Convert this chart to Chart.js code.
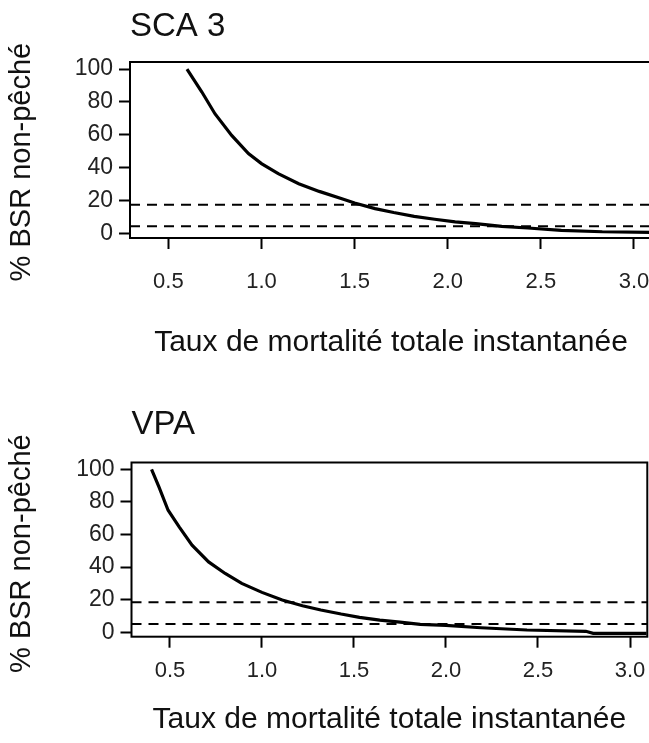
<!DOCTYPE html>
<html>
<head>
<meta charset="utf-8">
<script src="https://cdn.jsdelivr.net/npm/chart.js@4"></script>
<style>
  html, body { margin: 0; padding: 0; background: #fff; overflow: hidden; }
  body { width: 649px; height: 743px; position: relative; }
  .panel { position: absolute; left: 0; }
</style>
</head>
<body>
<div class="panel" style="top:0"><canvas id="scaChart" width="660" height="372"></canvas></div>
<div class="panel" style="top:372px"><canvas id="vpaChart" width="649" height="371"></canvas></div>
<script>
  // values
  const xTicks = [0.5, 1.0, 1.5, 2.0, 2.5, 3.0];
  const yTicks = [0, 20, 40, 60, 80, 100];

  const scaZ = [0.60, 0.68, 0.75, 0.84, 0.93, 1.00, 1.09, 1.20, 1.31, 1.44, 1.50, 1.61, 1.71, 1.82, 1.93, 2.04, 2.15, 2.29, 2.43, 2.61, 2.83, 3.09];
  const scaPct = [100, 86.0, 72.8, 59.6, 48.5, 42.4, 36.3, 30.2, 25.5, 20.7, 18.4, 15.0, 12.6, 10.3, 8.5, 6.9, 5.9, 4.2, 3.2, 1.8, 0.9, 0.5];
  const scaRefs = [17.4, 4.3];

  const vpaZ = [0.40, 0.44, 0.49, 0.55, 0.62, 0.71, 0.80, 0.89, 1.00, 1.11, 1.22, 1.32, 1.43, 1.53, 1.64, 1.75, 1.86, 2.00, 2.19, 2.44, 2.76, 2.80, 3.09];
  const vpaPct = [100, 89.2, 74.9, 64.7, 53.5, 43.2, 36.1, 30.0, 24.5, 19.8, 16.3, 13.7, 11.2, 9.2, 7.5, 6.3, 4.9, 4.3, 2.8, 1.4, 0.6, -0.6, -0.6];
  const vpaRefs = [18.5, 5.1];

  const FONT = "'Liberation Sans', Arial, sans-serif";
  const Y_TITLE = '% BSR non-pêché';

  const boxPlugin = {
    id: 'box',
    afterDraw(chart) {
      const { ctx, chartArea: a } = chart;
      ctx.save();
      ctx.strokeStyle = '#000';
      ctx.lineWidth = 2;
      ctx.strokeRect(a.left, a.top, a.right - a.left, a.bottom - a.top);
      ctx.restore();
    }
  };

  // keep tick labels from reserving extra room, so the plot box stays where we put it
  function noLabelPadding(s) {
    s.paddingLeft = 0;
    s.paddingRight = 0;
    s.paddingTop = 0;
    s.paddingBottom = 0;
  }

  function makePanel(el, cfg) {
    const pts = cfg.x.map((x, i) => ({ x, y: cfg.y[i] }));
    const refSets = cfg.refs.map(v => ({
      data: [{ x: cfg.xMin, y: v }, { x: cfg.xMax, y: v }],
      borderColor: '#000',
      borderWidth: 2,
      borderDash: [10, 7],
      pointRadius: 0,
      showLine: true,
    }));

    return new Chart(el, {
      type: 'scatter',
      data: {
        datasets: [{
          data: pts,
          borderColor: '#000',
          borderWidth: 3.2,
          pointRadius: 0,
          showLine: true,
          tension: 0,
        }, ...refSets],
      },
      options: {
        responsive: false,
        animation: false,
        layout: { padding: { top: 0, right: cfg.padRight, left: 0, bottom: 0 } },
        plugins: {
          legend: { display: false },
          tooltip: { enabled: false },
          title: {
            display: true,
            text: cfg.title,
            align: 'start',
            fullSize: false,
            color: '#111',
            font: { family: FONT, size: 33, weight: 'normal', lineHeight: 1.2 },
            padding: { top: cfg.titleTop, bottom: cfg.titleBottom },
          },
        },
        scales: {
          x: {
            type: 'linear',
            min: cfg.xMin,
            max: cfg.xMax,
            afterBuildTicks: s => { s.ticks = xTicks.map(v => ({ value: v })); },
            afterFit: s => { s.height = cfg.xAxisH; noLabelPadding(s); },
            grid: { drawOnChartArea: false, drawTicks: true, tickLength: 11, tickWidth: 2, tickColor: '#000' },
            border: { display: false },
            ticks: {
              padding: cfg.xTickPad,
              color: '#222',
              maxRotation: 0,
              autoSkip: false,
              font: { family: FONT, size: 22 },
              callback: v => v.toFixed(1),
            },
            title: {
              display: true,
              text: 'Taux de mortalité totale instantanée',
              color: '#111',
              font: { family: FONT, size: 30, lineHeight: 1.2 },
              padding: { top: 0, bottom: cfg.xTitleBottom },
            },
          },
          y: {
            type: 'linear',
            min: cfg.yMin,
            max: cfg.yMax,
            afterBuildTicks: s => { s.ticks = yTicks.map(v => ({ value: v })); },
            afterFit: s => { s.width = cfg.yAxisW; noLabelPadding(s); },
            grid: { drawOnChartArea: false, drawTicks: true, tickLength: 11, tickWidth: 2, tickColor: '#000' },
            border: { display: false },
            ticks: {
              padding: 6,
              color: '#222',
              autoSkip: false,
              font: { family: FONT, size: 23 },
            },
            title: {
              display: true,
              // trailing spaces nudge the rotated label down like the reference
              text: Y_TITLE + '\u00a0'.repeat(cfg.yTitleShift),
              color: '#111',
              font: { family: FONT, size: 29, lineHeight: 1.2 },
              padding: { top: 5, bottom: 0 },
            },
          },
        },
      },
      plugins: [boxPlugin],
    });
  }

  makePanel(document.getElementById('scaChart'), {
    title: 'SCA 3', x: scaZ, y: scaPct, refs: scaRefs,
    xMin: 0.294, xMax: 3.097, yMin: -2.9, yMax: 104.3,
    padRight: 8, yAxisW: 130, xAxisH: 134,
    titleTop: 7.2, titleBottom: 15.2, xTitleBottom: 11, xTickPad: 20, yTitleShift: 3,
  });

  makePanel(document.getElementById('vpaChart'), {
    title: 'VPA', x: vpaZ, y: vpaPct, refs: vpaRefs,
    xMin: 0.291, xMax: 3.094, yMin: -2.7, yMax: 104.2,
    padRight: 1.7, yAxisW: 131.5, xAxisH: 106.3,
    titleTop: 33.2, titleBottom: 17.7, xTitleBottom: 5, xTickPad: 10, yTitleShift: 1,
  });
</script>
</body>
</html>
